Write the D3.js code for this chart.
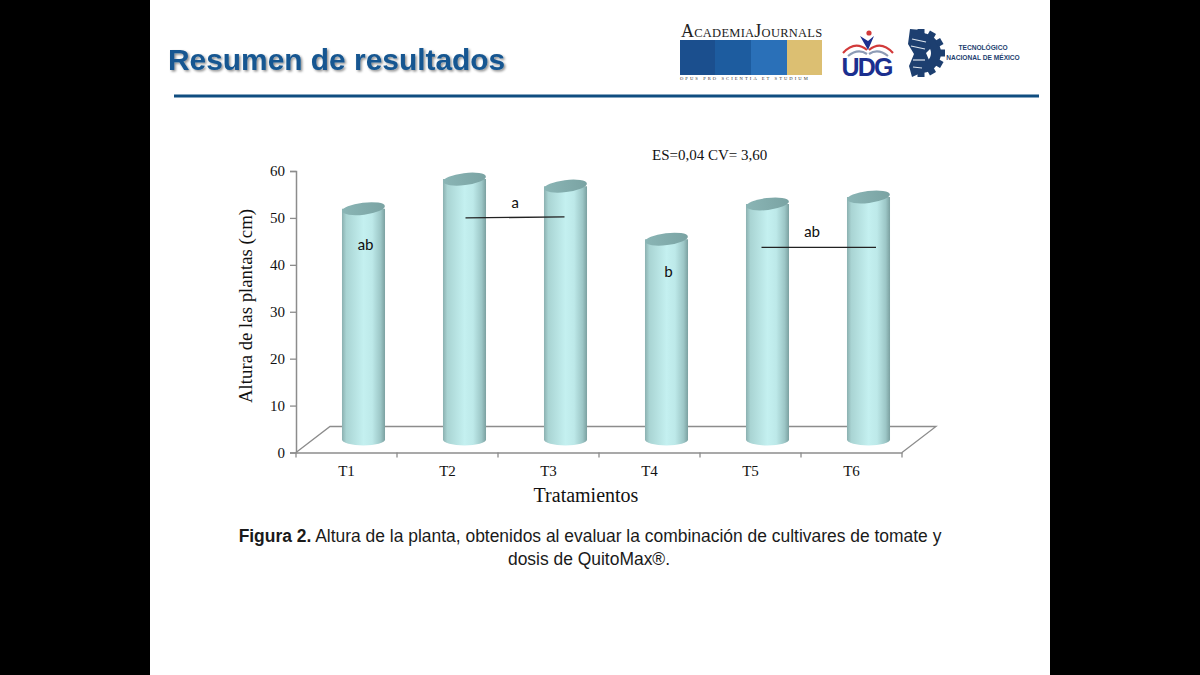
<!DOCTYPE html>
<html><head><meta charset="utf-8">
<script src="https://cdn.jsdelivr.net/npm/d3@7"></script>
<style>html,body{margin:0;padding:0;background:#000;overflow:hidden}svg{display:block}</style>
</head><body><svg id="c" width="1200" height="675"></svg>
<script>
const categories = ["T1","T2","T3","T4","T5","T6"];
const heights = [49.2, 55.5, 54, 42.7, 50.2, 51.7];
const yTicks = [0,10,20,30,40,50,60];
const groupLabels = [
  {from:"T2", to:"T3", text:"a", v:50, tv:52.2},
  {from:"T5", to:"T6", text:"ab", v:43.7, tv:46},
];
const innerLabels = [{cat:"T1", text:"ab", v:43.2},{cat:"T4", text:"b", v:37.5}];

const serif = "'Liberation Serif','Times New Roman',serif";
const sans = "'Liberation Sans',Arial,sans-serif";
const svg = d3.select("#c");
const defs = svg.append("defs");

// cylinder shading
const grad = defs.append("linearGradient").attr("id","cyl");
[[0,"#8bb0b0"],[.1,"#a9d4d3"],[.5,"#c4f0f0"],[.7,"#bde9e9"],[.9,"#9cc6c6"],[1,"#7ba0a0"]]
 .forEach(d=>grad.append("stop").attr("offset",d[0]).attr("stop-color",d[1]));
const gradTop = defs.append("linearGradient").attr("id","cylTop");
[[0,"#8ab5b5"],[1,"#7aa3a3"]].forEach(d=>gradTop.append("stop").attr("offset",d[0]).attr("stop-color",d[1]));
const shadow = defs.append("filter").attr("id","ts").attr("x","-5%").attr("y","-20%").attr("width","110%").attr("height","140%");
shadow.append("feDropShadow").attr("dx",1.5).attr("dy",1.5).attr("stdDeviation",1.2).attr("flood-color","#000").attr("flood-opacity",.45);

// slide
svg.append("rect").attr("x",150).attr("y",0).attr("width",900).attr("height",675).attr("fill","#fff");
svg.append("text").attr("x",168).attr("y",70).attr("font-family",sans).attr("font-weight","bold")
  .attr("font-size",29.9).attr("fill","#155791").attr("filter","url(#ts)").text("Resumen de resultados");
svg.append("rect").attr("x",174).attr("y",94.5).attr("width",865).attr("height",3).attr("fill","#0f4d80");

// logos
const logo = svg.append("g");
[[680,35,"#1b4f8e"],[715,36,"#1d5c9f"],[751,36,"#2a70b8"],[787,35,"#dcbf72"]].forEach(d=>
  logo.append("rect").attr("x",d[0]).attr("y",40).attr("width",d[1]).attr("height",35).attr("fill",d[2]));
const aj = logo.append("text").attr("x",681).attr("y",37).attr("font-family",serif).attr("fill","#222").attr("letter-spacing",.25);
aj.append("tspan").attr("font-size",18).text("A");
aj.append("tspan").attr("font-size",12.5).text("CADEMIA");
aj.append("tspan").attr("font-size",18).text("J");
aj.append("tspan").attr("font-size",12.5).text("OURNALS");
logo.append("text").attr("x",680).attr("y",80).attr("font-family",serif).attr("font-size",4.6)
  .attr("letter-spacing",2.05).attr("fill","#333").text("OPUS PRO SCIENTIA ET STUDIUM");
logo.append("text").attr("x",867.5).attr("y",76).attr("text-anchor","middle").attr("font-family",sans)
  .attr("font-weight","bold").attr("font-size",25).attr("fill","#1b2f8f").attr("textLength",52).text("UDG");
[["M843 53Q855 40 867 50","#d23a3a"],["M893 53Q881 40 869 50","#d23a3a"],
 ["M848 56Q858 48 867 54","#8d9bb5"],["M888 56Q878 48 869 54","#8d9bb5"]].forEach(d=>
  logo.append("path").attr("d",d[0]).attr("fill","none").attr("stroke",d[1]).attr("stroke-width",2.2));
logo.append("path").attr("d","M860 36L868 50L874 36L868 41Z").attr("fill","#1b2f8f");
logo.append("circle").attr("cx",869).attr("cy",33).attr("r",2.6).attr("fill","#d23a3a");
// gear emblem
const gear = logo.append("g").attr("transform","translate(921,53)").attr("fill","#1d3f70");
gear.append("path").attr("d",d3.arc()({innerRadius:10,outerRadius:20,startAngle:-0.15,endAngle:Math.PI+0.15}));
d3.range(0,181,30).forEach(a=>gear.append("rect").attr("x",-3.5).attr("y",-24).attr("width",7).attr("height",6)
  .attr("transform",`rotate(${a})`));
logo.append("path").attr("d","M910 29L921 30L929 38L931 48L926 53L929 60L923 72L912 77L909 66L914 54L908 44Z").attr("fill","#1d3f70");
["M912 39L926 42","M911 46L925 49","M913 60L925 60","M913 67L922 68"].forEach(d=>
  logo.append("path").attr("d",d).attr("stroke","#dfe6ee").attr("stroke-width",1.2));
logo.append("text").attr("x",983).attr("y",50).attr("text-anchor","middle").attr("font-family",sans)
  .attr("font-weight","bold").attr("font-size",6.6).attr("fill","#1d3f70").text("TECNOLÓGICO");
logo.append("text").attr("x",983).attr("y",60).attr("text-anchor","middle").attr("font-family",sans)
  .attr("font-weight","bold").attr("font-size",6.6).attr("fill","#1d3f70").text("NACIONAL DE MÉXICO");

// scales
const x = d3.scaleBand().domain(categories).range([296,902]);
const y = d3.scaleLinear().domain([0,60]).range([452.5,171]);
const dx = 17, dy = -13;      // half of the 3D depth
const rx = x.bandwidth()*0.213, ry = 6;
const axisColor = "#8c8c8c";

// floor
const x0=x.range()[0], x1=x.range()[1], y0=y(0);
svg.append("path").attr("d",`M${x0} ${y0}L${x0+2*dx} ${y0+2*dy}L${x1+2*dx} ${y0+2*dy}L${x1} ${y0}`)
  .attr("fill","none").attr("stroke",axisColor).attr("stroke-width",1.3);

// axes
const gy = svg.append("g").attr("transform",`translate(${x0},0)`)
  .call(d3.axisLeft(y).tickValues(yTicks).tickSize(6).tickPadding(5));
const gx = svg.append("g").attr("transform",`translate(0,${y0})`)
  .call(d3.axisBottom(x).tickSize(0).tickPadding(13));
gx.selectAll(".edge").data(d3.range(7)).enter().append("line").attr("class","edge")
  .attr("x1",i=>x0+i*x.step()).attr("x2",i=>x0+i*x.step()).attr("y1",0).attr("y2",5).attr("stroke",axisColor).attr("stroke-width",1.3);
[gy,gx].forEach(g=>{
  g.selectAll("path.domain").attr("stroke",axisColor).attr("stroke-width",1.5);
  g.selectAll(".tick line").attr("stroke",axisColor).attr("stroke-width",1.3);
  g.selectAll("text").attr("font-family",serif).attr("font-size",15).attr("fill","#111");
});

// cylinders
const bars = svg.append("g").selectAll("g").data(categories).enter().append("g")
  .attr("transform",c=>`translate(${x(c)+x.bandwidth()/2+dx},${dy})`);
bars.append("path").attr("fill","url(#cyl)").attr("d",(c,i)=>{
  const t=y(heights[i]), b=y(0);
  return `M${-rx} ${t}L${-rx} ${b}A${rx} ${ry} 0 0 0 ${rx} ${b}L${rx} ${t}Z`;
});
bars.append("ellipse").attr("fill","url(#cylTop)").attr("rx",rx).attr("ry",ry)
  .attr("cy",(c,i)=>y(heights[i])).attr("transform",(c,i)=>`rotate(-7 0 ${y(heights[i])})`);

// annotations
const cx = c=>x(c)+x.bandwidth()/2+dx;
const calib = "Carlito,'Open Sans',sans-serif";
groupLabels.forEach((g,i)=>{
  const shift = i ? -6 : 0, grow = i ? 7.5 : -1;
  svg.append("line").attr("x1",cx(g.from)+shift+(i?0:1)).attr("x2",cx(g.to)+grow).attr("y1",y(g.v)).attr("y2",y(g.v)-(i?0:1))
    .attr("stroke","#222").attr("stroke-width",1.3);
  svg.append("text").attr("x",(cx(g.from)+cx(g.to))/2+shift).attr("y",y(g.tv)).attr("text-anchor","middle")
    .attr("font-family",calib).attr("font-size",16).attr("fill","#111").text(g.text);
});
innerLabels.forEach(l=>svg.append("text").attr("x",cx(l.cat)+2).attr("y",y(l.v)).attr("text-anchor","middle")
  .attr("font-family",calib).attr("font-size",16).attr("fill","#111").text(l.text));

svg.append("text").attr("x",652).attr("y",160).attr("font-family",serif).attr("font-size",15).attr("fill","#111").text("ES=0,04 CV= 3,60");
svg.append("text").attr("transform","translate(252,306) rotate(-90)").attr("text-anchor","middle")
  .attr("font-family",serif).attr("font-size",18.8).attr("fill","#111").text("Altura de las plantas (cm)");
svg.append("text").attr("x",586).attr("y",502).attr("text-anchor","middle")
  .attr("font-family",serif).attr("font-size",20).attr("fill","#111").text("Tratamientos");

// caption
const cap = svg.append("text").attr("x",590).attr("y",542).attr("text-anchor","middle")
  .attr("font-family",sans).attr("font-size",17.45).attr("fill","#1a1a1a");
cap.append("tspan").attr("font-weight","bold").text("Figura 2.");
cap.append("tspan").text(" Altura de la planta, obtenidos al evaluar la combinación de cultivares de tomate y");
svg.append("text").attr("x",589).attr("y",565).attr("text-anchor","middle")
  .attr("font-family",sans).attr("font-size",17.45).attr("fill","#1a1a1a").text("dosis de QuitoMax®.");
</script></body></html>
